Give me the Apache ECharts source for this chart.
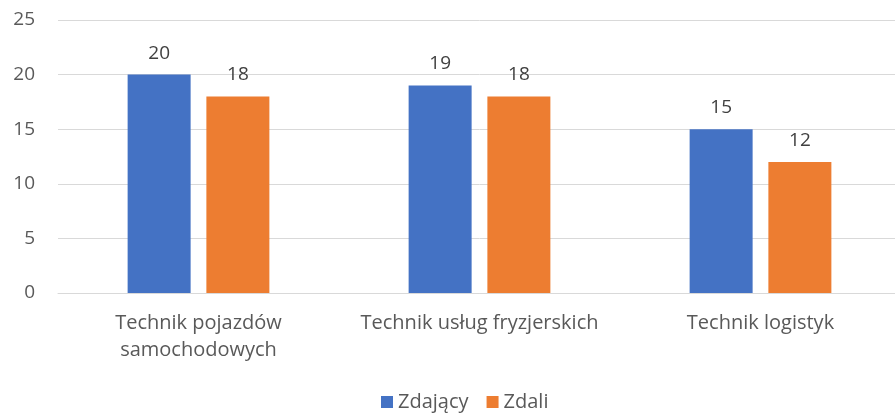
<!DOCTYPE html>
<html>
<head>
<meta charset="utf-8">
<script src="https://cdn.jsdelivr.net/npm/echarts@6/dist/echarts.min.js"></script>
<style>
  html, body { margin: 0; padding: 0; background: #fff; overflow: hidden; }
  #chart { width: 901px; height: 413px; }
</style>
</head>
<body>
<div id="chart"></div>
<script>
// ----------data----------
const categories = ['Technik pojazdów\nsamochodowych', 'Technik usług fryzjerskich', 'Technik logistyk'];
const zdajacy = [20, 19, 15];
const zdali = [18, 18, 12];
const yTicks = { min: 0, max: 25, interval: 5 };
// ------------------------

const FONT = 'Open Sans';
const chart = echarts.init(document.getElementById('chart'));

const labelStyle = {
  show: true,
  position: 'top',
  distance: 12,
  color: '#404040',
  fontSize: 19,
  fontFamily: FONT,
};

chart.setOption({
  animation: false,
  backgroundColor: '#fff',
  grid: { left: 58, right: 0, top: 20, bottom: 120, containLabel: false },
  legend: {
    top: 387,
    left: 376,
    itemWidth: 12,
    itemHeight: 12,
    itemGap: 18,
    icon: 'rect',
    textStyle: { color: '#595959', fontSize: 20, fontFamily: FONT },
    data: ['Zdający', 'Zdali'],
  },
  xAxis: {
    type: 'category',
    data: categories,
    axisTick: { show: false },
    axisLine: { lineStyle: { color: '#d9d9d9', width: 1 } },
    axisLabel: {
      color: '#595959',
      fontSize: 20,
      fontFamily: FONT,
      margin: 17,
      lineHeight: 27,
      interval: 0,
    },
  },
  yAxis: {
    type: 'value',
    min: yTicks.min,
    max: yTicks.max,
    interval: yTicks.interval,
    axisLine: { show: false },
    axisTick: { show: false },
    splitLine: { lineStyle: { color: '#d9d9d9', width: 1 } },
    axisLabel: { color: '#595959', fontSize: 19, fontFamily: FONT, margin: 23 },
  },
  series: [
    {
      name: 'Zdający',
      type: 'bar',
      data: zdajacy,
      barWidth: 63,
      barGap: '25%',
      itemStyle: { color: '#4472C4' },
      label: labelStyle,
    },
    {
      name: 'Zdali',
      type: 'bar',
      data: zdali,
      barWidth: 63,
      itemStyle: { color: '#ED7D31' },
      label: labelStyle,
    },
  ],
});
</script>
</body>
</html>
